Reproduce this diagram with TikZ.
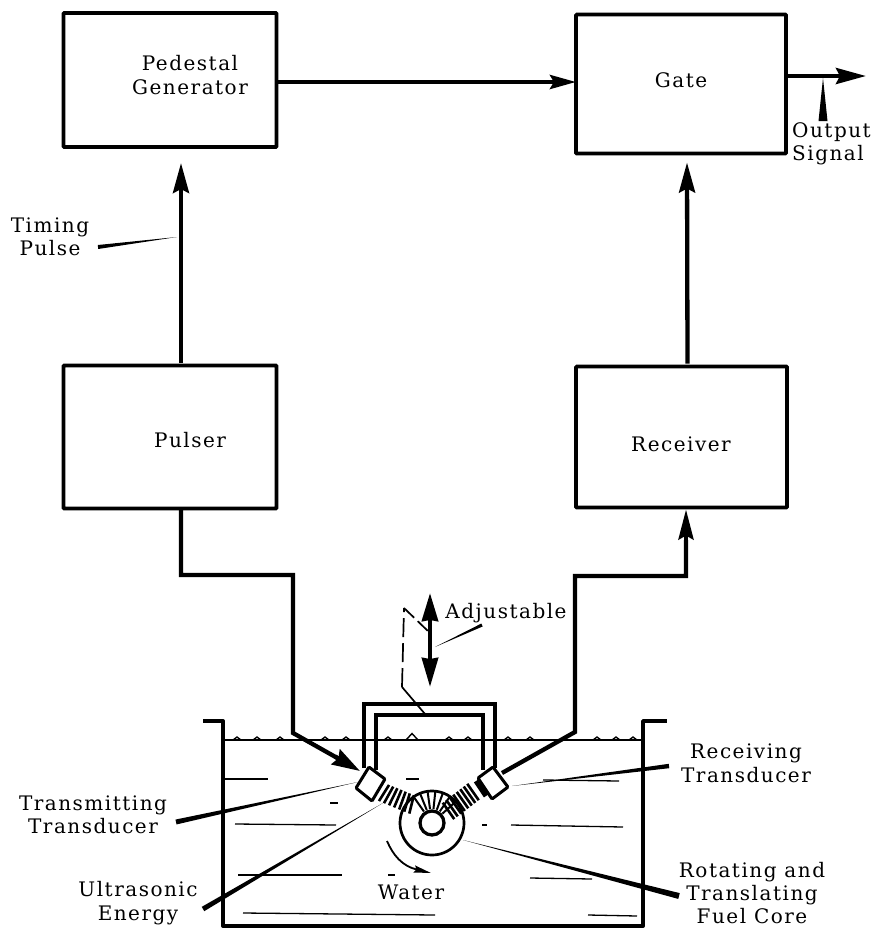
\documentclass[tikz,border=0pt]{standalone}
\usepackage{fontspec}
\setmainfont[LetterSpace=7.5]{DejaVu Serif}
\usetikzlibrary{arrows.meta,calc,positioning}
\tikzset{
	block/.style={draw,line width=3.9pt,rounded corners=1pt,inner sep=0pt,outer sep=0pt},
	wire/.style={line width=4.3pt,line join=miter},
	signal/.style={wire,-{Stealth[length=30pt,width=16pt,inset=4pt]}},
	label/.style={align=center,font=\fontsize{20}{23.5}\selectfont,inner sep=0pt},
	ripple/.style={line width=1.4pt},
	level/.style={line width=1.3pt},
	frame/.style={line width=3.3pt,line join=miter},
	wave/.style={line width=2.6pt}
}
% tapered leader from a label to what it names
\newcommand{\leader}[3]{\fill ($(#1)!#3!90:(#2)$) -- (#2) -- ($(#1)!#3!-90:(#2)$) -- cycle;}
\begin{document}
\begin{tikzpicture}[x=1pt,y=-1pt]
	\useasboundingbox (0,0) rectangle (872,929);

	% blocks
	\node[block,minimum width=213pt,minimum height=134pt] (pedestal) at (170,80) {};
	\node[block,minimum width=210pt,minimum height=139pt] (gate) at (681,84) {};
	\node[block,minimum width=213pt,minimum height=143pt] (pulser) at (170,437) {};
	\node[block,minimum width=211pt,minimum height=141pt] (receiver) at (681.5,437) {};
	\node[label] (pedestaltext) at (190,75) {Pedestal\\Generator};
	\node[label] (gatetext) at (681,80) {Gate};
	\node[label] (pulsertext) at (190,440) {Pulser};
	\node[label] (receivertext) at (681,444) {Receiver};

	% signal path
	\draw[signal,-{Stealth[length=26pt,width=14pt,inset=4pt]}] ([yshift=-2pt]pedestal.east) -- ([yshift=2pt]gate.west);
	\draw[signal] ([xshift=11pt,yshift=3pt]pulser.north) -- ([xshift=11pt,yshift=-16pt]pedestal.south);
	\draw[signal] ([xshift=6pt,yshift=3pt]receiver.north) -- ([xshift=6pt,yshift=-9pt]gate.south);
	\coordinate (outend) at (866,76);
	\draw[signal] (gate.east |- outend) -- (outend);

	% transducer leads
	\coordinate (xmitcorner) at (293,575);
	\coordinate (xmitbend) at (293,733);
	\coordinate (xmittip) at (360,771);
	\draw[wire] ([xshift=11pt]pulser.south) |- (xmitcorner) -- (xmitbend) -- (340,759.5);
	\draw[signal,-{Stealth[length=28pt,width=17pt,inset=3pt]}] (335,756.5) -- (xmittip);
	\coordinate (recvend) at (502,773);
	\coordinate (recvbend) at (575,732);
	\coordinate (recvcorner) at (575,576);
	\draw[wire] (recvend) -- (recvbend) -- (recvcorner) -| (686,540);
	\draw[signal,-{Stealth[length=30pt,width=15pt,inset=4pt]}] (686,545) -- ([xshift=4.5pt,yshift=-2pt]receiver.south);

	% tank and water
	\draw[line width=3.9pt,line join=round] (203,721) -- (223,721) -- (223,926) -- (643,926) -- (643,721) -- (667,721);
	\draw[ripple] (223,740) -- (643,740);
	\foreach \x in {237,257,280,325,346,388,449,468,508,530,597,616,633}{
		\draw[ripple] ({\x-4},740) -- (\x,737) -- ({\x+4},740);
	}
	\draw[ripple] (406,740) -- (412,733.5) -- (418,740);
	\foreach \xa/\ya/\xb/\yb in {225/779/268/779,406/779/419/779,330/803/338/803,235/824/336/825,482/825/487/825,511/825/623/827,238/875/342/875,388/875/395/875,530/878/592/879,243/913/435/915,588/915/637/916,543/780/619/781}{
		\draw[level] (\xa,\ya) -- (\xb,\yb);
	}

	% carriage frame
	\draw[frame] (364,768) -- (364,704) -- (495,704) -- (495,768);
	\draw[frame] (376,770) -- (376,715) -- (483,715) -- (483,770);

	% transducers
	\draw[line width=3pt,fill=white,rounded corners=1pt] (369,767) -- (385,779) -- (372,801) -- (356,788) -- cycle;
	\draw[line width=3pt,fill=white,rounded corners=1pt] (478,778) -- (493,767) -- (508,787) -- (492,799) -- cycle;
	\draw[line width=5pt] (476,781) -- (486,796);

	% beams and core
	\foreach \t in {0,...,6}{
		\draw[wave] ($({384+4.6*\t},{793+1.9*\t})+({122-3*\t}:9.5)$) -- ++({302-3*\t}:19);
	}
	\foreach \t in {0,...,7}{
		\draw[wave] ($({473-3.5*\t},{792+2.7*\t})+(55:10)$) -- ++(235:20);
	}
	\draw[line width=2.7pt] (432,823) circle (32);
	\draw[line width=3.3pt] (432,823) circle (12);
	\foreach \a in {235,248,262,276,290,304,318}{
		\draw[line width=2pt] ($(432,823)+(\a:14)$) -- ($(432,823)+(\a:31)$);
	}
	\coordinate (turnstart) at (387,841);
	\coordinate (turnend) at (431,873);
	\draw[line width=1.8pt,-{Stealth[length=17pt,width=7pt,inset=2pt]}] (turnstart) .. controls (393,855) and (402,866) .. (turnend);

	% adjustment
	\coordinate (adjtop) at (430,593);
	\coordinate (adjbot) at (430,687);
	\coordinate (adjmid) at (430,640);
	\draw[signal,-{Stealth[length=28pt,width=16pt,inset=1pt]}] (adjmid) -- (adjtop);
	\draw[signal,-{Stealth[length=29pt,width=16pt,inset=1pt]}] (adjmid) -- (adjbot);
	\draw[line width=1.7pt] (425,714) -- (402,687);
	\draw[line width=1.7pt,dash pattern=on 19pt off 6pt] (402,687) -- (404,608);
	\draw[line width=1.7pt,dash pattern=on 14pt off 5pt] (404,608) -- (430,633);

	% labels
	\node[label] (timing) at (50,237) {Timing\\Pulse};
	\node[label,align=left,anchor=west] (output) at (792,144) {Output\\Signal};
	\node[label] (adjustable) at (506,613) {Adjustable};
	\node[label] (water) at (411,892) {Water};
	\node[label] (xmit) at (93,815) {Transmitting\\Transducer};
	\node[label] (ultra) at (138,903) {Ultrasonic\\Energy};
	\node[label] (recv) at (746,763.5) {Receiving\\Transducer};
	\node[label,font=\fontsize{20}{23}\selectfont] (core) at (752,893) {Rotating and\\Translating\\Fuel Core};

	% leaders
	\coordinate (timingend) at (98,247);
	\coordinate (timingtip) at (177,237);
	\leader{timingend}{timingtip}{2pt}
	\coordinate (outfoot) at (823,121);
	\coordinate (outtip) at (823,78);
	\leader{outfoot}{outtip}{4.5pt}
	\coordinate (adjend) at (482,625);
	\coordinate (adjtip) at (435,647);
	\leader{adjend}{adjtip}{1.6pt}
	\coordinate (xmitend) at (176,822);
	\coordinate (xmitto) at (358,782);
	\leader{xmitend}{xmitto}{2.5pt}
	\coordinate (ultraend) at (203,909);
	\coordinate (ultrato) at (383,803);
	\leader{ultraend}{ultrato}{2.5pt}
	\coordinate (recvlead) at (669,766);
	\coordinate (recvto) at (512,786);
	\leader{recvlead}{recvto}{2.2pt}
	\coordinate (coreend) at (679,896);
	\coordinate (coreto) at (463,840);
	\leader{coreend}{coreto}{3pt}
\end{tikzpicture}
\end{document}
